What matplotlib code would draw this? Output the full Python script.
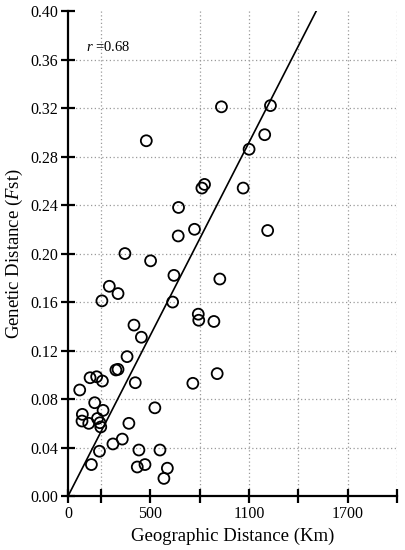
import numpy as np
import matplotlib
matplotlib.use('Agg')
import matplotlib.pyplot as plt

plt.rcParams['font.family'] = ['Liberation Serif', 'DejaVu Serif']
plt.rcParams['mathtext.fontset'] = 'custom'
plt.rcParams['mathtext.rm'] = 'Liberation Serif'
plt.rcParams['mathtext.it'] = 'Liberation Serif:italic'

# Pairwise geographic distance (km) vs genetic distance (Fst)
geo_km = [933, 1231, 476, 1196, 1101, 830, 814, 1065, 672, 769,
          670, 1214, 346, 502, 644, 923, 251, 304, 206, 636,
          792, 795, 887, 401, 446, 359, 304, 291, 907, 134,
          174, 209, 409, 759, 71, 162, 528, 213, 87, 85,
          126, 179, 194, 199, 370, 330, 273, 191, 431, 559,
          142, 421, 468, 604, 583]
fst = [0.321, 0.322, 0.293, 0.298, 0.286, 0.257, 0.254, 0.254, 0.238, 0.220,
       0.2145, 0.219, 0.200, 0.194, 0.182, 0.179, 0.173, 0.167, 0.161, 0.160,
       0.150, 0.145, 0.144, 0.141, 0.131, 0.115, 0.1045, 0.104, 0.101, 0.0976,
       0.0984, 0.0949, 0.0935, 0.093, 0.0875, 0.077, 0.0728, 0.0707, 0.0674, 0.0619,
       0.060, 0.064, 0.0605, 0.057, 0.060, 0.047, 0.043, 0.037, 0.038, 0.038,
       0.026, 0.024, 0.026, 0.023, 0.0146]

# regression line through the origin
fit_slope = 0.000265
r_value = 0.68

x_ticks = [0, 200, 500, 800, 1100, 1400, 1700, 2000]
x_labels = ['0', '', '500', '', '1100', '', '1700', '']
y_ticks = np.arange(0, 0.401, 0.04)

fig = plt.figure(figsize=(4.05, 5.5), dpi=100)
ax = fig.add_axes([0.168, 0.098, 0.812, 0.882])

# dotted grid
for yv in y_ticks[1:-1]:
    ax.axhline(yv, color='#9a9a9a', lw=0.9, ls=(0, (1, 2)), zorder=0, clip_on=False)
for xv in [200, 800, 1100, 1400, 1700, 2000]:
    ax.axvline(xv, color='#9a9a9a', lw=0.9, ls=(0, (1, 2)), zorder=0)

ax.scatter(geo_km, fst, s=62, facecolors='none', edgecolors='black',
           linewidths=1.3, zorder=3, clip_on=False)

x_end = 0.40 / fit_slope
ax.plot([0, x_end], [0, fit_slope * x_end], color='black', lw=1.2, zorder=2)

ax.text(0.055, 0.925, r'$r$ =0.68', transform=ax.transAxes, fontsize=10.5,
        ha='left', va='center')

ax.set_xlim(0, 2000)
ax.set_ylim(0, 0.40)
ax.set_xticks(x_ticks)
ax.set_xticklabels(x_labels)
ax.set_yticks(y_ticks)
ax.set_yticklabels(['%.2f' % v for v in y_ticks])

for side in ['top', 'right']:
    ax.spines[side].set_visible(False)
for side in ['left', 'bottom']:
    ax.spines[side].set_linewidth(1.6)

ax.tick_params(direction='inout', length=10, width=1.6, labelsize=11.5, pad=2)

ax.set_xlabel('Geographic Distance (Km)', fontsize=13.5, labelpad=4)
ax.set_ylabel(r'Genetic Distance ($F$st)', fontsize=13.5, labelpad=4)

plt.savefig('out.png', dpi=100)
